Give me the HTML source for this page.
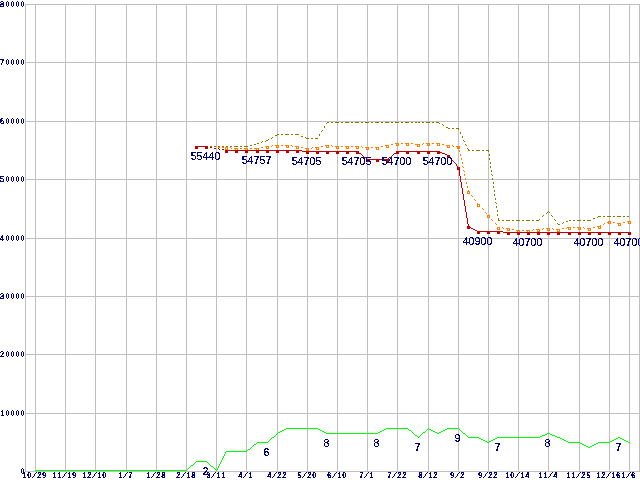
<!DOCTYPE html>
<html lang="ja"><head><meta charset="utf-8"><title>price chart</title>
<style>html,body{margin:0;padding:0;background:#fff;overflow:hidden}svg{display:block}</style>
</head><body>
<svg width="640" height="480" viewBox="0 0 640 480" shape-rendering="crispEdges">
<rect width="640" height="480" fill="#fff"/>
<defs><filter id="tl" x="0" y="0" width="100%" height="100%" filterUnits="userSpaceOnUse" color-interpolation-filters="sRGB"><feComponentTransfer><feFuncA type="discrete" tableValues="0 0 0 0 1 1 1 1 1 1"/></feComponentTransfer></filter><filter id="ta" x="0" y="0" width="100%" height="100%" filterUnits="userSpaceOnUse" color-interpolation-filters="sRGB"><feComponentTransfer><feFuncA type="discrete" tableValues="0 0 0 0 1 1 1 1 1 1"/></feComponentTransfer></filter></defs>
<path fill="#c0c0c0" d="M25 4h615v1h-615zM25 62h615v1h-615zM25 121h615v1h-615zM25 179h615v1h-615zM25 238h615v1h-615zM25 296h615v1h-615zM25 354h615v1h-615zM25 413h615v1h-615zM25 471h615v1h-615zM25 4h1v468h-1zM35 4h1v468h-1zM65 4h1v468h-1zM95 4h1v468h-1zM126 4h1v468h-1zM156 4h1v468h-1zM186 4h1v468h-1zM216 4h1v468h-1zM246 4h1v468h-1zM277 4h1v468h-1zM307 4h1v468h-1zM337 4h1v468h-1zM367 4h1v468h-1zM397 4h1v468h-1zM428 4h1v468h-1zM458 4h1v468h-1zM488 4h1v468h-1zM518 4h1v468h-1zM548 4h1v468h-1zM579 4h1v468h-1zM609 4h1v468h-1zM629 4h1v468h-1zM639 4h1v468h-1z"/>
<g shape-rendering="auto" text-rendering="geometricPrecision" filter="url(#ta)" font-family="Liberation Sans, Arial, sans-serif" font-weight="bold" fill="#000080" stroke="#000080" stroke-width="0.08">
<g stroke-width="0.1">
<text font-size="8.4" transform="translate(0 7) scale(0.76 1)" x="-0.07 7.53 14.11 20.69 27.27" y="0"><tspan font-weight="normal" stroke-width="0.25" textLength="5.39" lengthAdjust="spacingAndGlyphs">8</tspan>0000</text>
<text font-size="8.4" transform="translate(0 65) scale(0.76 1)" x="-0.07 7.53 14.11 20.69 27.27" y="0"><tspan font-weight="normal" stroke-width="0.25" textLength="5.39" lengthAdjust="spacingAndGlyphs">7</tspan>0000</text>
<text font-size="8.4" transform="translate(0 124) scale(0.76 1)" x="-0.07 7.53 14.11 20.69 27.27" y="0"><tspan font-weight="normal" stroke-width="0.25" textLength="5.39" lengthAdjust="spacingAndGlyphs">6</tspan>0000</text>
<text font-size="8.4" transform="translate(0 182) scale(0.76 1)" x="-0.07 7.53 14.11 20.69 27.27" y="0"><tspan font-weight="normal" stroke-width="0.25" textLength="5.39" lengthAdjust="spacingAndGlyphs">5</tspan>0000</text>
<text font-size="8.4" transform="translate(0 241) scale(0.76 1)" x="-0.07 7.53 14.11 20.69 27.27" y="0"><tspan font-weight="normal" stroke-width="0.25" textLength="5.39" lengthAdjust="spacingAndGlyphs">4</tspan>0000</text>
<text font-size="8.4" transform="translate(0 299) scale(0.76 1)" x="-0.07 7.53 14.11 20.69 27.27" y="0"><tspan font-weight="normal" stroke-width="0.25" textLength="5.39" lengthAdjust="spacingAndGlyphs">3</tspan>0000</text>
<text font-size="8.4" transform="translate(0 357) scale(0.76 1)" x="-0.07 7.53 14.11 20.69 27.27" y="0"><tspan font-weight="normal" stroke-width="0.25" textLength="5.39" lengthAdjust="spacingAndGlyphs">2</tspan>0000</text>
<text font-size="8.4" transform="translate(0 416) scale(0.76 1)" x="0.95 7.53 14.11 20.69 27.27" y="0">10000</text>
<text font-size="8.4" transform="translate(20 474) scale(0.76 1)" x="0.95" y="0">0</text>
</g>
<text font-size="8.4" transform="translate(22 478) scale(0.88 1)" x="0.22 5.90 11.08 17.27 22.95" y="0">10<tspan font-weight="normal" stroke="none" fill-opacity="0.55" textLength="6.25" lengthAdjust="spacingAndGlyphs">/</tspan>29</text>
<text font-size="8.4" transform="translate(52 478) scale(0.88 1)" x="0.22 5.90 11.08 17.27 22.95" y="0">11<tspan font-weight="normal" stroke="none" fill-opacity="0.55" textLength="6.25" lengthAdjust="spacingAndGlyphs">/</tspan>19</text>
<text font-size="8.4" transform="translate(82 478) scale(0.88 1)" x="0.22 5.90 11.08 17.27 22.95" y="0">12<tspan font-weight="normal" stroke="none" fill-opacity="0.55" textLength="6.25" lengthAdjust="spacingAndGlyphs">/</tspan>10</text>
<text font-size="8.4" transform="translate(118 478) scale(0.88 1)" x="0.22 5.40 11.59" y="0">1<tspan font-weight="normal" stroke="none" fill-opacity="0.55" textLength="6.25" lengthAdjust="spacingAndGlyphs">/</tspan>7</text>
<text font-size="8.4" transform="translate(146 478) scale(0.88 1)" x="0.22 5.40 11.59 17.27" y="0">1<tspan font-weight="normal" stroke="none" fill-opacity="0.55" textLength="6.25" lengthAdjust="spacingAndGlyphs">/</tspan>28</text>
<text font-size="8.4" transform="translate(176 478) scale(0.88 1)" x="0.22 5.40 11.59 17.27" y="0">2<tspan font-weight="normal" stroke="none" fill-opacity="0.55" textLength="6.25" lengthAdjust="spacingAndGlyphs">/</tspan>18</text>
<text font-size="8.4" transform="translate(206 478) scale(0.88 1)" x="0.22 5.40 11.59 17.27" y="0">3<tspan font-weight="normal" stroke="none" fill-opacity="0.55" textLength="6.25" lengthAdjust="spacingAndGlyphs">/</tspan>11</text>
<text font-size="8.4" transform="translate(238 478) scale(0.88 1)" x="0.22 5.40 11.59" y="0">4<tspan font-weight="normal" stroke="none" fill-opacity="0.55" textLength="6.25" lengthAdjust="spacingAndGlyphs">/</tspan>1</text>
<text font-size="8.4" transform="translate(267 478) scale(0.88 1)" x="0.22 5.40 11.59 17.27" y="0">4<tspan font-weight="normal" stroke="none" fill-opacity="0.55" textLength="6.25" lengthAdjust="spacingAndGlyphs">/</tspan>22</text>
<text font-size="8.4" transform="translate(297 478) scale(0.88 1)" x="0.22 5.40 11.59 17.27" y="0">5<tspan font-weight="normal" stroke="none" fill-opacity="0.55" textLength="6.25" lengthAdjust="spacingAndGlyphs">/</tspan>20</text>
<text font-size="8.4" transform="translate(327 478) scale(0.88 1)" x="0.22 5.40 11.59 17.27" y="0">6<tspan font-weight="normal" stroke="none" fill-opacity="0.55" textLength="6.25" lengthAdjust="spacingAndGlyphs">/</tspan>10</text>
<text font-size="8.4" transform="translate(359 478) scale(0.88 1)" x="0.22 5.40 11.59" y="0">7<tspan font-weight="normal" stroke="none" fill-opacity="0.55" textLength="6.25" lengthAdjust="spacingAndGlyphs">/</tspan>1</text>
<text font-size="8.4" transform="translate(387 478) scale(0.88 1)" x="0.22 5.40 11.59 17.27" y="0">7<tspan font-weight="normal" stroke="none" fill-opacity="0.55" textLength="6.25" lengthAdjust="spacingAndGlyphs">/</tspan>22</text>
<text font-size="8.4" transform="translate(418 478) scale(0.88 1)" x="0.22 5.40 11.59 17.27" y="0">8<tspan font-weight="normal" stroke="none" fill-opacity="0.55" textLength="6.25" lengthAdjust="spacingAndGlyphs">/</tspan>12</text>
<text font-size="8.4" transform="translate(450 478) scale(0.88 1)" x="0.22 5.40 11.59" y="0">9<tspan font-weight="normal" stroke="none" fill-opacity="0.55" textLength="6.25" lengthAdjust="spacingAndGlyphs">/</tspan>2</text>
<text font-size="8.4" transform="translate(478 478) scale(0.88 1)" x="0.22 5.40 11.59 17.27" y="0">9<tspan font-weight="normal" stroke="none" fill-opacity="0.55" textLength="6.25" lengthAdjust="spacingAndGlyphs">/</tspan>22</text>
<text font-size="8.4" transform="translate(505 478) scale(0.88 1)" x="0.22 5.90 11.08 17.27 22.95" y="0">10<tspan font-weight="normal" stroke="none" fill-opacity="0.55" textLength="6.25" lengthAdjust="spacingAndGlyphs">/</tspan>14</text>
<text font-size="8.4" transform="translate(538 478) scale(0.88 1)" x="0.22 5.90 11.08 17.27" y="0">11<tspan font-weight="normal" stroke="none" fill-opacity="0.55" textLength="6.25" lengthAdjust="spacingAndGlyphs">/</tspan>4</text>
<text font-size="8.4" transform="translate(566 478) scale(0.88 1)" x="0.22 5.90 11.08 17.27 22.95" y="0">11<tspan font-weight="normal" stroke="none" fill-opacity="0.55" textLength="6.25" lengthAdjust="spacingAndGlyphs">/</tspan>25</text>
<text font-size="8.4" transform="translate(596 478) scale(0.88 1)" x="0.22 5.90 11.08 17.27 22.95" y="0">12<tspan font-weight="normal" stroke="none" fill-opacity="0.55" textLength="6.25" lengthAdjust="spacingAndGlyphs">/</tspan>16</text>
<text font-size="8.4" transform="translate(621 478) scale(0.88 1)" x="0.22 5.40 11.59" y="0">1<tspan font-weight="normal" stroke="none" fill-opacity="0.55" textLength="6.25" lengthAdjust="spacingAndGlyphs">/</tspan>6</text>
</g>
<path fill="#00ff00" d="M286 428h32v1h-32zM386 428h22v1h-22zM428 428h1v1h-1zM447 428h12v1h-12zM284 429h2v1h-2zM318 429h2v1h-2zM384 429h2v1h-2zM408 429h1v1h-1zM427 429h1v1h-1zM429 429h2v1h-2zM445 429h2v1h-2zM459 429h1v1h-1zM282 430h2v1h-2zM320 430h2v1h-2zM382 430h2v1h-2zM409 430h2v1h-2zM426 430h1v1h-1zM431 430h2v1h-2zM443 430h2v1h-2zM460 430h1v1h-1zM280 431h2v1h-2zM322 431h2v1h-2zM380 431h2v1h-2zM411 431h1v1h-1zM425 431h1v1h-1zM433 431h2v1h-2zM441 431h2v1h-2zM461 431h1v1h-1zM278 432h2v1h-2zM324 432h2v1h-2zM378 432h2v1h-2zM412 432h1v1h-1zM423 432h2v1h-2zM435 432h2v1h-2zM439 432h2v1h-2zM462 432h1v1h-1zM277 433h1v1h-1zM326 433h52v1h-52zM413 433h1v1h-1zM422 433h1v1h-1zM437 433h2v1h-2zM463 433h2v1h-2zM547 433h3v1h-3zM276 434h1v1h-1zM414 434h1v1h-1zM421 434h1v1h-1zM465 434h1v1h-1zM545 434h2v1h-2zM550 434h2v1h-2zM275 435h1v1h-1zM415 435h2v1h-2zM420 435h1v1h-1zM466 435h1v1h-1zM542 435h3v1h-3zM552 435h3v1h-3zM274 436h1v1h-1zM417 436h1v1h-1zM419 436h1v1h-1zM467 436h1v1h-1zM540 436h2v1h-2zM555 436h2v1h-2zM272 437h2v1h-2zM418 437h1v1h-1zM468 437h11v1h-11zM497 437h43v1h-43zM557 437h3v1h-3zM618 437h2v1h-2zM271 438h1v1h-1zM479 438h2v1h-2zM495 438h2v1h-2zM560 438h2v1h-2zM616 438h2v1h-2zM620 438h2v1h-2zM270 439h1v1h-1zM481 439h2v1h-2zM493 439h2v1h-2zM562 439h2v1h-2zM614 439h2v1h-2zM622 439h2v1h-2zM269 440h1v1h-1zM483 440h2v1h-2zM491 440h2v1h-2zM564 440h2v1h-2zM612 440h2v1h-2zM624 440h2v1h-2zM268 441h1v1h-1zM485 441h2v1h-2zM489 441h2v1h-2zM566 441h2v1h-2zM610 441h2v1h-2zM626 441h2v1h-2zM257 442h11v1h-11zM487 442h2v1h-2zM568 442h12v1h-12zM598 442h12v1h-12zM628 442h2v1h-2zM256 443h1v1h-1zM580 443h2v1h-2zM596 443h2v1h-2zM254 444h2v1h-2zM582 444h2v1h-2zM594 444h2v1h-2zM253 445h1v1h-1zM584 445h2v1h-2zM592 445h2v1h-2zM252 446h1v1h-1zM586 446h2v1h-2zM590 446h2v1h-2zM251 447h1v1h-1zM588 447h2v1h-2zM250 448h1v1h-1zM248 449h2v1h-2zM247 450h1v1h-1zM226 451h21v1h-21zM225 452h1v1h-1zM225 453h1v1h-1zM224 454h1v1h-1zM224 455h1v1h-1zM223 456h1v1h-1zM223 457h1v1h-1zM222 458h1v1h-1zM222 459h1v1h-1zM221 460h1v1h-1zM196 461h11v1h-11zM221 461h1v1h-1zM195 462h1v1h-1zM207 462h1v1h-1zM220 462h1v1h-1zM194 463h1v1h-1zM208 463h1v1h-1zM220 463h1v1h-1zM193 464h1v1h-1zM209 464h1v1h-1zM219 464h1v1h-1zM191 465h2v1h-2zM210 465h1v1h-1zM219 465h1v1h-1zM190 466h1v1h-1zM211 466h2v1h-2zM218 466h1v1h-1zM189 467h1v1h-1zM213 467h1v1h-1zM218 467h1v1h-1zM188 468h1v1h-1zM214 468h1v1h-1zM217 468h1v1h-1zM187 469h1v1h-1zM215 469h1v1h-1zM217 469h1v1h-1zM35 470h152v1h-152zM216 470h1v1h-1z"/>
<path fill="#ff8000" d="M395 143h4v1h-4zM401 143h2v1h-2zM405 143h4v1h-4zM411 143h2v1h-2zM423 143h1v1h-1zM426 143h4v1h-4zM432 143h2v1h-2zM436 143h4v1h-4zM391 144h2v1h-2zM396 144h1v1h-1zM398 144h1v1h-1zM406 144h1v1h-1zM408 144h1v1h-1zM415 144h5v1h-5zM422 144h1v1h-1zM427 144h1v1h-1zM429 144h1v1h-1zM437 144h1v1h-1zM439 144h1v1h-1zM442 144h2v1h-2zM272 145h1v1h-1zM275 145h4v1h-4zM281 145h2v1h-2zM285 145h4v1h-4zM291 145h1v1h-1zM325 145h4v1h-4zM331 145h1v1h-1zM385 145h4v1h-4zM396 145h3v1h-3zM406 145h3v1h-3zM417 145h1v1h-1zM419 145h1v1h-1zM427 145h3v1h-3zM437 145h3v1h-3zM446 145h4v1h-4zM452 145h1v1h-1zM205 146h3v1h-3zM210 146h2v1h-2zM214 146h2v1h-2zM265 146h4v1h-4zM271 146h1v1h-1zM276 146h1v1h-1zM278 146h1v1h-1zM286 146h1v1h-1zM288 146h1v1h-1zM292 146h1v1h-1zM295 146h4v1h-4zM321 146h2v1h-2zM326 146h1v1h-1zM328 146h1v1h-1zM332 146h1v1h-1zM335 146h4v1h-4zM341 146h2v1h-2zM345 146h4v1h-4zM351 146h2v1h-2zM355 146h4v1h-4zM361 146h1v1h-1zM381 146h2v1h-2zM386 146h1v1h-1zM388 146h1v1h-1zM417 146h3v1h-3zM447 146h1v1h-1zM449 146h1v1h-1zM453 146h1v1h-1zM456 146h4v1h-4zM205 147h1v1h-1zM207 147h1v1h-1zM218 147h2v1h-2zM222 147h2v1h-2zM225 147h3v1h-3zM230 147h1v1h-1zM261 147h2v1h-2zM266 147h1v1h-1zM268 147h1v1h-1zM276 147h3v1h-3zM286 147h3v1h-3zM296 147h1v1h-1zM298 147h1v1h-1zM301 147h2v1h-2zM312 147h1v1h-1zM315 147h4v1h-4zM326 147h3v1h-3zM336 147h1v1h-1zM338 147h1v1h-1zM346 147h1v1h-1zM348 147h1v1h-1zM356 147h1v1h-1zM358 147h1v1h-1zM362 147h1v1h-1zM365 147h4v1h-4zM371 147h2v1h-2zM375 147h4v1h-4zM386 147h3v1h-3zM447 147h3v1h-3zM457 147h3v1h-3zM205 148h3v1h-3zM225 148h1v1h-1zM227 148h1v1h-1zM231 148h1v1h-1zM234 148h4v1h-4zM240 148h2v1h-2zM244 148h4v1h-4zM250 148h2v1h-2zM254 148h5v1h-5zM266 148h3v1h-3zM296 148h3v1h-3zM305 148h4v1h-4zM311 148h1v1h-1zM316 148h1v1h-1zM318 148h1v1h-1zM336 148h3v1h-3zM346 148h3v1h-3zM356 148h3v1h-3zM366 148h1v1h-1zM368 148h1v1h-1zM376 148h1v1h-1zM378 148h1v1h-1zM457 148h3v1h-3zM225 149h3v1h-3zM235 149h1v1h-1zM237 149h1v1h-1zM245 149h1v1h-1zM247 149h1v1h-1zM256 149h1v1h-1zM258 149h1v1h-1zM306 149h1v1h-1zM308 149h1v1h-1zM316 149h3v1h-3zM366 149h3v1h-3zM376 149h3v1h-3zM235 150h3v1h-3zM245 150h3v1h-3zM256 150h3v1h-3zM306 150h3v1h-3zM459 150h1v1h-1zM459 151h1v1h-1zM460 154h1v1h-1zM460 155h1v1h-1zM461 158h1v1h-1zM461 159h1v1h-1zM462 162h1v1h-1zM462 163h1v1h-1zM462 166h1v1h-1zM463 167h1v1h-1zM463 170h1v1h-1zM464 171h1v1h-1zM464 174h1v1h-1zM464 175h1v1h-1zM465 178h1v1h-1zM465 179h1v1h-1zM466 182h1v1h-1zM466 183h1v1h-1zM467 186h1v1h-1zM467 187h1v1h-1zM468 190h1v1h-1zM467 191h3v1h-3zM467 192h1v1h-1zM469 192h1v1h-1zM467 193h3v1h-3zM471 195h1v1h-1zM472 196h1v1h-1zM474 199h1v1h-1zM475 200h1v1h-1zM477 203h1v1h-1zM477 204h3v1h-3zM477 205h1v1h-1zM479 205h1v1h-1zM477 206h3v1h-3zM482 208h1v1h-1zM483 209h1v1h-1zM485 212h1v1h-1zM486 213h1v1h-1zM487 215h3v1h-3zM487 216h1v1h-1zM489 216h1v1h-1zM487 217h3v1h-3zM491 219h1v1h-1zM492 220h1v1h-1zM608 221h3v1h-3zM627 221h4v1h-4zM607 222h2v1h-2zM610 222h1v1h-1zM613 222h2v1h-2zM623 222h2v1h-2zM628 222h1v1h-1zM630 222h1v1h-1zM495 223h1v1h-1zM604 223h1v1h-1zM608 223h3v1h-3zM617 223h4v1h-4zM628 223h3v1h-3zM496 224h1v1h-1zM603 224h1v1h-1zM618 224h1v1h-1zM620 224h1v1h-1zM600 225h1v1h-1zM618 225h3v1h-3zM597 226h4v1h-4zM497 227h3v1h-3zM502 227h1v1h-1zM567 227h4v1h-4zM573 227h2v1h-2zM577 227h4v1h-4zM583 227h1v1h-1zM593 227h2v1h-2zM598 227h1v1h-1zM600 227h1v1h-1zM497 228h1v1h-1zM499 228h1v1h-1zM503 228h1v1h-1zM506 228h4v1h-4zM543 228h1v1h-1zM546 228h4v1h-4zM552 228h1v1h-1zM562 228h2v1h-2zM566 228h1v1h-1zM568 228h1v1h-1zM570 228h1v1h-1zM578 228h1v1h-1zM580 228h1v1h-1zM584 228h1v1h-1zM587 228h4v1h-4zM598 228h3v1h-3zM497 229h3v1h-3zM507 229h1v1h-1zM509 229h1v1h-1zM512 229h2v1h-2zM533 229h1v1h-1zM536 229h4v1h-4zM542 229h1v1h-1zM547 229h1v1h-1zM549 229h1v1h-1zM553 229h1v1h-1zM556 229h4v1h-4zM568 229h3v1h-3zM578 229h3v1h-3zM588 229h1v1h-1zM590 229h1v1h-1zM507 230h3v1h-3zM516 230h4v1h-4zM522 230h2v1h-2zM526 230h4v1h-4zM532 230h1v1h-1zM537 230h1v1h-1zM539 230h1v1h-1zM547 230h3v1h-3zM557 230h1v1h-1zM559 230h1v1h-1zM588 230h3v1h-3zM517 231h1v1h-1zM519 231h1v1h-1zM527 231h1v1h-1zM529 231h1v1h-1zM537 231h3v1h-3zM557 231h3v1h-3zM517 232h3v1h-3zM527 232h3v1h-3z"/>
<path fill="#808000" d="M327 122h2v1h-2zM331 122h2v1h-2zM335 122h4v1h-4zM341 122h2v1h-2zM345 122h4v1h-4zM351 122h2v1h-2zM355 122h4v1h-4zM361 122h2v1h-2zM365 122h4v1h-4zM371 122h2v1h-2zM375 122h4v1h-4zM381 122h2v1h-2zM385 122h4v1h-4zM391 122h2v1h-2zM395 122h4v1h-4zM401 122h2v1h-2zM405 122h4v1h-4zM411 122h2v1h-2zM415 122h2v1h-2zM418 122h2v1h-2zM422 122h2v1h-2zM426 122h4v1h-4zM432 122h2v1h-2zM436 122h3v1h-3zM326 123h1v1h-1zM439 123h1v1h-1zM442 124h1v1h-1zM443 125h1v1h-1zM324 126h1v1h-1zM324 127h1v1h-1zM446 127h2v1h-2zM448 128h2v1h-2zM452 128h2v1h-2zM456 128h3v1h-3zM458 129h1v1h-1zM322 130h1v1h-1zM321 131h1v1h-1zM460 132h1v1h-1zM460 133h1v1h-1zM277 134h2v1h-2zM281 134h2v1h-2zM285 134h4v1h-4zM291 134h2v1h-2zM295 134h4v1h-4zM319 134h1v1h-1zM275 135h2v1h-2zM319 135h1v1h-1zM301 136h2v1h-2zM462 136h1v1h-1zM272 137h1v1h-1zM305 137h1v1h-1zM462 137h1v1h-1zM271 138h1v1h-1zM306 138h3v1h-3zM311 138h2v1h-2zM315 138h3v1h-3zM268 139h1v1h-1zM266 140h2v1h-2zM463 140h1v1h-1zM262 141h1v1h-1zM265 141h1v1h-1zM464 141h1v1h-1zM261 142h1v1h-1zM257 143h2v1h-2zM254 144h2v1h-2zM465 144h1v1h-1zM250 145h2v1h-2zM466 145h1v1h-1zM206 146h2v1h-2zM210 146h2v1h-2zM214 146h2v1h-2zM218 146h2v1h-2zM222 146h2v1h-2zM226 146h2v1h-2zM230 146h2v1h-2zM234 146h4v1h-4zM240 146h2v1h-2zM244 146h4v1h-4zM467 148h1v1h-1zM468 149h1v1h-1zM468 150h2v1h-2zM472 150h2v1h-2zM476 150h4v1h-4zM482 150h2v1h-2zM486 150h3v1h-3zM488 151h1v1h-1zM489 154h1v1h-1zM489 155h1v1h-1zM489 158h1v1h-1zM489 159h1v1h-1zM490 162h1v1h-1zM490 163h1v1h-1zM490 166h1v1h-1zM490 167h1v1h-1zM491 170h1v1h-1zM491 171h1v1h-1zM491 174h1v1h-1zM492 175h1v1h-1zM492 178h1v1h-1zM492 179h1v1h-1zM493 182h1v1h-1zM493 183h1v1h-1zM493 186h1v1h-1zM493 187h1v1h-1zM494 190h1v1h-1zM494 191h1v1h-1zM494 194h1v1h-1zM494 195h1v1h-1zM495 198h1v1h-1zM495 199h1v1h-1zM495 202h1v1h-1zM496 203h1v1h-1zM496 206h1v1h-1zM496 207h1v1h-1zM497 210h1v1h-1zM497 211h1v1h-1zM548 211h1v1h-1zM547 212h1v1h-1zM549 212h1v1h-1zM546 213h1v1h-1zM497 214h1v1h-1zM497 215h1v1h-1zM543 215h1v1h-1zM551 215h1v1h-1zM542 216h1v1h-1zM552 216h1v1h-1zM598 216h3v1h-3zM603 216h2v1h-2zM607 216h4v1h-4zM613 216h2v1h-2zM617 216h4v1h-4zM623 216h2v1h-2zM627 216h2v1h-2zM597 217h1v1h-1zM498 218h1v1h-1zM593 218h2v1h-2zM498 219h1v1h-1zM539 219h1v1h-1zM554 219h1v1h-1zM498 220h2v1h-2zM502 220h2v1h-2zM506 220h4v1h-4zM512 220h2v1h-2zM516 220h4v1h-4zM522 220h2v1h-2zM526 220h4v1h-4zM532 220h2v1h-2zM536 220h3v1h-3zM555 220h1v1h-1zM569 220h2v1h-2zM573 220h2v1h-2zM577 220h4v1h-4zM583 220h2v1h-2zM587 220h4v1h-4zM566 221h2v1h-2zM563 222h1v1h-1zM557 223h1v1h-1zM562 223h1v1h-1zM558 224h2v1h-2z"/>
<path fill="#c00000" d="M195 146h13v1h-13zM195 147h3v1h-3zM205 147h3v1h-3zM210 147h2v1h-2zM195 148h3v1h-3zM205 148h3v1h-3zM214 148h2v1h-2zM218 148h1v1h-1zM219 149h1v1h-1zM222 149h2v1h-2zM225 150h77v1h-77zM225 151h3v1h-3zM235 151h3v1h-3zM245 151h3v1h-3zM256 151h3v1h-3zM266 151h3v1h-3zM276 151h3v1h-3zM286 151h3v1h-3zM296 151h3v1h-3zM302 151h57v1h-57zM396 151h44v1h-44zM225 152h3v1h-3zM235 152h3v1h-3zM245 152h3v1h-3zM256 152h3v1h-3zM266 152h3v1h-3zM276 152h3v1h-3zM286 152h3v1h-3zM296 152h3v1h-3zM306 152h3v1h-3zM316 152h3v1h-3zM326 152h3v1h-3zM336 152h3v1h-3zM346 152h3v1h-3zM356 152h3v1h-3zM396 152h3v1h-3zM406 152h3v1h-3zM417 152h3v1h-3zM427 152h3v1h-3zM437 152h5v1h-5zM306 153h3v1h-3zM316 153h3v1h-3zM326 153h3v1h-3zM336 153h3v1h-3zM346 153h3v1h-3zM356 153h5v1h-5zM394 153h5v1h-5zM406 153h3v1h-3zM417 153h3v1h-3zM427 153h3v1h-3zM437 153h3v1h-3zM442 153h3v1h-3zM361 154h1v1h-1zM393 154h1v1h-1zM445 154h2v1h-2zM362 155h1v1h-1zM392 155h1v1h-1zM447 155h3v1h-3zM363 156h1v1h-1zM391 156h1v1h-1zM447 156h3v1h-3zM364 157h2v1h-2zM389 157h2v1h-2zM447 157h4v1h-4zM366 158h1v1h-1zM388 158h1v1h-1zM451 158h1v1h-1zM366 159h23v1h-23zM451 159h1v1h-1zM366 160h3v1h-3zM376 160h3v1h-3zM386 160h3v1h-3zM452 160h1v1h-1zM366 161h3v1h-3zM376 161h3v1h-3zM386 161h3v1h-3zM453 161h1v1h-1zM454 162h1v1h-1zM455 163h1v1h-1zM456 164h1v1h-1zM456 165h1v1h-1zM457 166h1v1h-1zM457 167h3v1h-3zM457 168h3v1h-3zM457 169h3v1h-3zM459 170h1v1h-1zM459 171h1v1h-1zM459 172h1v1h-1zM459 173h1v1h-1zM459 174h1v1h-1zM459 175h1v1h-1zM460 176h1v1h-1zM460 177h1v1h-1zM460 178h1v1h-1zM460 179h1v1h-1zM460 180h1v1h-1zM460 181h1v1h-1zM461 182h1v1h-1zM461 183h1v1h-1zM461 184h1v1h-1zM461 185h1v1h-1zM461 186h1v1h-1zM461 187h1v1h-1zM462 188h1v1h-1zM462 189h1v1h-1zM462 190h1v1h-1zM462 191h1v1h-1zM462 192h1v1h-1zM462 193h1v1h-1zM463 194h1v1h-1zM463 195h1v1h-1zM463 196h1v1h-1zM463 197h1v1h-1zM463 198h1v1h-1zM463 199h1v1h-1zM464 200h1v1h-1zM464 201h1v1h-1zM464 202h1v1h-1zM464 203h1v1h-1zM464 204h1v1h-1zM464 205h1v1h-1zM465 206h1v1h-1zM465 207h1v1h-1zM465 208h1v1h-1zM465 209h1v1h-1zM465 210h1v1h-1zM465 211h1v1h-1zM466 212h1v1h-1zM466 213h1v1h-1zM466 214h1v1h-1zM466 215h1v1h-1zM466 216h1v1h-1zM466 217h1v1h-1zM467 218h1v1h-1zM467 219h1v1h-1zM467 220h1v1h-1zM467 221h1v1h-1zM467 222h1v1h-1zM467 223h1v1h-1zM468 224h1v1h-1zM468 225h1v1h-1zM467 226h3v1h-3zM467 227h4v1h-4zM467 228h3v1h-3zM471 228h2v1h-2zM473 229h2v1h-2zM475 230h2v1h-2zM477 231h26v1h-26zM477 232h3v1h-3zM487 232h3v1h-3zM497 232h3v1h-3zM503 232h128v1h-128zM477 233h3v1h-3zM487 233h3v1h-3zM497 233h3v1h-3zM507 233h3v1h-3zM517 233h3v1h-3zM527 233h3v1h-3zM537 233h3v1h-3zM547 233h3v1h-3zM557 233h3v1h-3zM568 233h3v1h-3zM578 233h3v1h-3zM588 233h3v1h-3zM598 233h3v1h-3zM608 233h3v1h-3zM618 233h3v1h-3zM628 233h3v1h-3zM507 234h3v1h-3zM517 234h3v1h-3zM527 234h3v1h-3zM537 234h3v1h-3zM547 234h3v1h-3zM557 234h3v1h-3zM568 234h3v1h-3zM578 234h3v1h-3zM588 234h3v1h-3zM598 234h3v1h-3zM608 234h3v1h-3zM618 234h3v1h-3zM628 234h3v1h-3z"/>
<g shape-rendering="auto" filter="url(#tl)" font-family="Liberation Sans, Arial, sans-serif" font-size="10.67" fill="#000080" stroke="#000080" stroke-width="0.08" text-anchor="middle">
<text x="205.5" y="160">55440</text>
<text x="256.5" y="164">54757</text>
<text x="306.5" y="165">54705</text>
<text x="356.5" y="165">54705</text>
<text x="396.5" y="165">54700</text>
<text x="437.5" y="165">54700</text>
<text x="477.5" y="245">40900</text>
<text x="527.5" y="246">40700</text>
<text x="588.5" y="246">40700</text>
<text x="628.5" y="246">40700</text>
<text x="205.5" y="475">2</text>
<text x="266.5" y="456">6</text>
<text x="326.5" y="447">8</text>
<text x="376.5" y="447">8</text>
<text x="417.5" y="451">7</text>
<text x="457.5" y="442">9</text>
<text x="497.5" y="451">7</text>
<text x="547.5" y="447">8</text>
<text x="618.5" y="451">7</text>
</g>
</svg>
</body></html>
